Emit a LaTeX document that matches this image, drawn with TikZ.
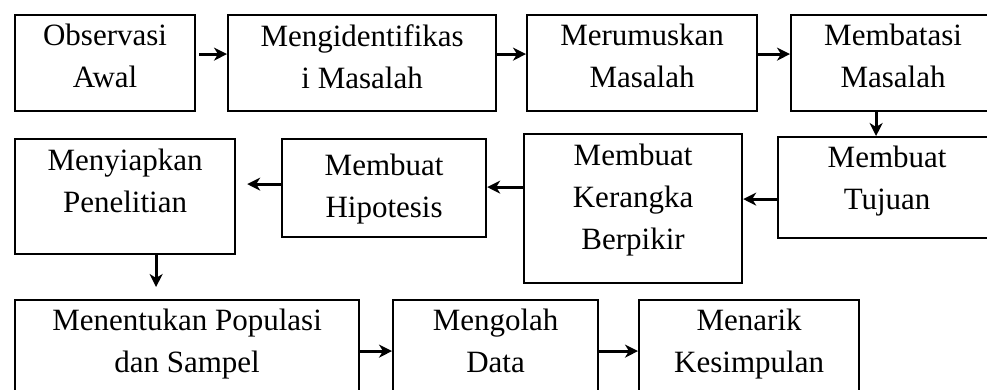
\documentclass[tikz,border=0pt]{standalone}
\usepackage{fontspec}
\setmainfont{Liberation Serif}
\usetikzlibrary{positioning,arrows.meta}
\begin{document}
\begin{tikzpicture}[x=1pt,y=-1pt,
  kotak/.style={draw,line width=2.2pt,anchor=north west,inner sep=0pt},
  teks/.style={align=center,inner sep=0pt,font=\fontsize{31}{42}\selectfont},
  panah/.style={-{Stealth[length=13pt,width=13pt,inset=4pt]},line width=3pt}]
\useasboundingbox (0,0) rectangle (987,390);
\clip (0,0) rectangle (987,390);
% baris atas
\node[kotak,minimum width=180pt,minimum height=96pt] (obs) at (14,14) {};
\node[kotak,minimum width=268pt,minimum height=96pt] (ident) at (227,14) {};
\node[kotak,minimum width=230pt,minimum height=96pt] (rumus) at (526,14) {};
\node[kotak,minimum width=204pt,minimum height=96pt] (batas) at (790,14) {};
\node[teks,below=10pt of obs.north] (obs-t) {Observasi\\Awal};
\node[teks,below=10pt of ident.north] (ident-t) {Mengidentifikas\\i Masalah};
\node[teks,below=10pt of rumus.north] (rumus-t) {Merumuskan\\Masalah};
\node[teks,below=10pt of batas.north] (batas-t) {Membatasi\\Masalah};
% baris tengah
\node[kotak,minimum width=218pt,minimum height=101pt] (tujuan) at (777,136) {};
\node[kotak,minimum width=218pt,minimum height=149pt] (kerangka) at (523,133) {};
\node[kotak,minimum width=204pt,minimum height=98pt] (hipo) at (281,138) {};
\node[kotak,minimum width=220pt,minimum height=115pt] (siap) at (14,138) {};
\node[teks,below=10pt of tujuan.north] (tujuan-t) {Membuat\\Tujuan};
\node[teks,below=11pt of kerangka.north] (kerangka-t) {Membuat\\Kerangka\\Berpikir};
\node[teks,below=16pt of hipo.north] (hipo-t) {Membuat\\Hipotesis};
\node[teks,below=11pt of siap.north] (siap-t) {Menyiapkan\\Penelitian};
% baris bawah
\node[kotak,minimum width=344pt,minimum height=121pt] (populasi) at (14,299) {};
\node[kotak,minimum width=205pt,minimum height=121pt] (olah) at (392,299) {};
\node[kotak,minimum width=220pt,minimum height=121pt] (tarik) at (638,299) {};
\node[teks,below=10pt of populasi.north] (populasi-t) {Menentukan Populasi\\dan Sampel};
\node[teks,below=10pt of olah.north] (olah-t) {Mengolah\\Data};
\node[teks,below=10pt of tarik.north] (tarik-t) {Menarik\\Kesimpulan};
% panah
\draw[panah,shorten <=3pt] ([yshift=9pt]obs.east) -- ([yshift=9pt]ident.west);
\draw[panah] ([yshift=9pt]ident.east) -- ([yshift=9pt]rumus.west);
\draw[panah] ([yshift=9pt]rumus.east) -- ([yshift=9pt]batas.west);
\draw[panah] ([xshift=-17pt]batas.south) -- ([xshift=-17pt]batas.south |- tujuan.north);
\draw[panah] ([yshift=-11.5pt]tujuan.west) -- ([yshift=9.5pt]kerangka.east);
\draw[panah] ([yshift=21.5pt]kerangka.west) -- ([yshift=1pt]hipo.east);
\draw[panah,shorten >=11pt] ([yshift=4pt]hipo.west) -- ([yshift=12.5pt]siap.east);
\draw[panah,shorten >=12pt] ([xshift=31pt]siap.south) -- ([xshift=-31pt]populasi.north);
\draw[panah] ([yshift=9.5pt]populasi.east) -- ([yshift=9.5pt]olah.west);
\draw[panah] ([yshift=9.5pt]olah.east) -- ([yshift=9.5pt]tarik.west);
\end{tikzpicture}
\end{document}
